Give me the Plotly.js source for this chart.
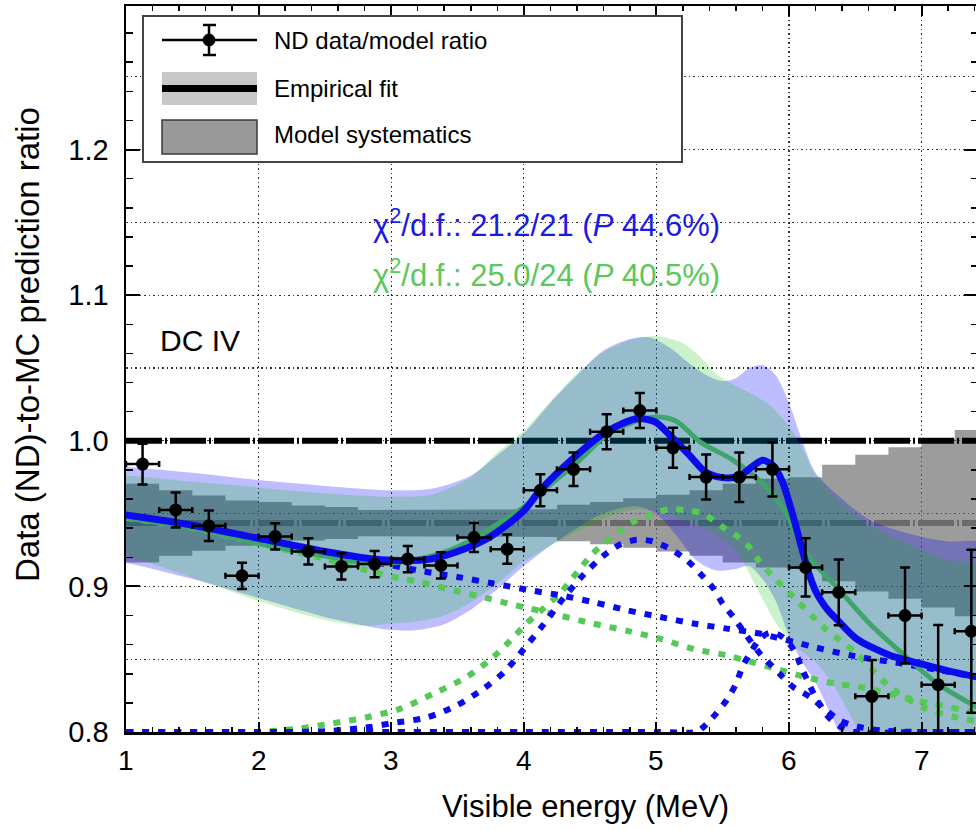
<!DOCTYPE html>
<html><head><meta charset="utf-8">
<script src="https://cdn.plot.ly/plotly-3.0.1.min.js"></script>
<style>html,body{margin:0;padding:0;overflow:hidden;background:#fff}</style>
</head><body><div id="chart" style="width:978px;height:830px"></div>
<script>
// ---------------- data ----------------
const dataX = [1.125,1.375,1.625,1.875,2.125,2.375,2.625,2.875,3.125,3.375,3.625,3.875,4.125,4.375,4.625,4.875,5.125,5.375,5.625,5.875,6.125,6.375,6.625,6.875,7.125,7.375];
const dataY = [0.984,0.9525,0.9416,0.9073,0.9343,0.924,0.9137,0.9153,0.9188,0.9144,0.9336,0.9256,0.966,0.9804,1.0062,1.0208,0.9952,0.9751,0.975,0.9804,0.913,0.8959,0.8245,0.88,0.8325,0.8692];
const dataErr = [0.014,0.012,0.0105,0.009,0.009,0.009,0.009,0.009,0.009,0.009,0.01,0.01,0.011,0.0115,0.012,0.012,0.0137,0.0155,0.017,0.0186,0.02,0.0225,0.025,0.033,0.041,0.056];
const binHalfWidth = 0.125;
const xTickVals = [1, 2, 3, 4, 5, 6, 7];

// model systematics (grey histogram band)
const sysBinEdges = [1.00,1.25,1.50,1.75,2.00,2.25,2.50,2.75,3.00,3.25,3.50,3.75,4.00,4.25,4.50,4.75,5.00,5.25,5.50,5.75,6.00,6.25,6.50,6.75,7.00,7.25,7.50];
const sysHalf = [0.027,0.0225,0.019,0.0155,0.0145,0.012,0.011,0.009,0.009,0.009,0.009,0.0095,0.0095,0.0125,0.0145,0.017,0.0195,0.0225,0.027,0.0305,0.0315,0.040,0.047,0.052,0.058,0.064];
const sysCenter = 0.9435;
const unityLevel = 1.0;
const lineXRange = [1.0, 7.5];

// fit bands
const blueBandUpX = [0.95,1.0,1.5,2.0,2.5,3.0,3.3,3.6,3.8,4.0,4.2,4.4,4.6,4.8,4.95,5.1,5.25,5.4,5.5,5.6,5.7,5.8,5.9,6.0,6.1,6.2,6.4,6.6,6.8,7.0,7.2,7.5];
const blueBandUpY = [0.982,0.982,0.978,0.973,0.969,0.966,0.967,0.976,0.990,1.005,1.026,1.045,1.062,1.070,1.071,1.064,1.053,1.044,1.041,1.043,1.050,1.052,1.045,1.026,1.000,0.978,0.960,0.946,0.939,0.934,0.931,0.928];
const blueBandLoX = [0.95,1.0,1.5,2.0,2.5,2.8,3.0,3.2,3.4,3.6,3.8,4.0,4.2,4.4,4.55,4.7,4.85,5.0,5.15,5.3,5.45,5.6,5.7,5.8,5.9,6.0,6.1,6.2,6.3,6.38,6.6,7.0,7.5];
const blueBandLoY = [0.916,0.916,0.905,0.892,0.879,0.873,0.870,0.870,0.874,0.884,0.898,0.914,0.928,0.940,0.948,0.953,0.955,0.950,0.935,0.918,0.911,0.912,0.914,0.905,0.890,0.866,0.848,0.834,0.815,0.800,0.775,0.75,0.74];
const greenBandUpX = [0.95,1.0,1.5,2.0,2.5,3.0,3.3,3.6,3.8,4.0,4.2,4.4,4.6,4.8,5.0,5.2,5.35,5.45,5.55,5.7,5.85,6.0,6.1,6.2,6.4,6.6,6.8,7.0,7.2,7.5];
const greenBandUpY = [0.976,0.976,0.972,0.968,0.964,0.9615,0.963,0.975,0.992,1.007,1.027,1.046,1.061,1.069,1.072,1.067,1.056,1.046,1.040,1.033,1.025,1.010,0.995,0.977,0.957,0.943,0.933,0.925,0.918,0.912];
const greenBandLoX = [0.95,1.0,1.5,2.0,2.5,2.8,3.0,3.2,3.4,3.6,3.8,4.0,4.2,4.3,4.5,4.7,4.85,5.0,5.2,5.4,5.6,5.75,5.9,6.03,6.2,6.35,6.5,6.6,7.0,7.5];
const greenBandLoY = [0.921,0.921,0.906,0.890,0.877,0.873,0.8745,0.876,0.880,0.889,0.902,0.917,0.928,0.933,0.942,0.950,0.953,0.952,0.946,0.938,0.925,0.900,0.875,0.860,0.848,0.830,0.805,0.790,0.76,0.74];

// fitted totals
const blueFitX = [1.0,1.5,2.0,2.5,2.85,3.0,3.27,3.5,3.745,4.0,4.12,4.37,4.62,4.85,4.99,5.115,5.25,5.37,5.5,5.62,5.72,5.8,5.88,5.95,6.0,6.05,6.1,6.15,6.2,6.25,6.3,6.37,6.51,6.76,6.99,7.2,7.45];
const blueFitY = [0.949,0.942,0.933,0.924,0.919,0.918,0.9184,0.924,0.934,0.952,0.9656,0.9878,1.006,1.0152,1.013,1.0026,0.990,0.9786,0.9747,0.9756,0.982,0.9866,0.983,0.972,0.958,0.942,0.925,0.909,0.897,0.889,0.883,0.8765,0.864,0.8527,0.847,0.842,0.8372];
const greenFitX = [1.0,1.5,2.0,2.5,2.84,3.0,3.27,3.5,3.745,4.0,4.2,4.4,4.62,4.8,5.0,5.15,5.33,5.58,5.83,5.98,6.12,6.37,6.62,6.87,7.12,7.45];
const greenFitY = [0.947,0.940,0.9294,0.921,0.9157,0.916,0.920,0.927,0.9397,0.9545,0.970,0.985,1.0035,1.012,1.0163,1.0135,0.9992,0.9866,0.968,0.950,0.9236,0.8985,0.8733,0.8527,0.8332,0.8155];

// fit components (dotted)
const blueBaseX = [1.0,1.5,2.0,2.5,3.0,3.2,3.5,3.77,4.07,4.27,4.52,4.78,5.03,5.28,5.53,5.78,5.9,6.16,6.5,6.85,7.1,7.45];
const blueBaseY = [0.949,0.942,0.933,0.923,0.9145,0.911,0.9065,0.902,0.897,0.894,0.8893,0.8836,0.879,0.8745,0.871,0.8676,0.865,0.859,0.852,0.847,0.843,0.8372];
const blueG1X = [1.0,1.5,2.0,2.5,2.84,3.0,3.27,3.5,3.7,3.85,4.0,4.15,4.3,4.45,4.6,4.73,4.85,4.97,5.1,5.23,5.33,5.43,5.5,5.58,5.65,5.78,5.93,6.03,6.16,6.28,6.38,6.53,6.7,7.0,7.45];
const blueG1Y = [0.8,0.8,0.8,0.8005,0.8034,0.806,0.810,0.8185,0.830,0.841,0.857,0.874,0.892,0.908,0.921,0.929,0.932,0.931,0.926,0.918,0.9088,0.8985,0.888,0.879,0.870,0.854,0.840,0.831,0.824,0.815,0.808,0.8035,0.801,0.8,0.8];
const blueG2X = [1.0,2.0,3.0,4.0,5.0,5.3,5.35,5.45,5.53,5.6,5.65,5.72,5.78,5.85,5.92,6.0,6.05,6.1,6.2,6.3,6.4,6.5,7.0,7.45];
const blueG2Y = [0.8,0.8,0.8,0.8,0.8,0.8,0.803,0.8126,0.822,0.833,0.845,0.856,0.864,0.868,0.867,0.861,0.854,0.843,0.824,0.810,0.803,0.8,0.8,0.8];
const greenBaseX = [1.0,1.5,2.0,2.5,2.82,3.07,3.22,3.47,3.74,3.89,4.05,4.27,4.52,4.78,5.03,5.28,5.53,5.68,5.9,6.11,6.36,6.53,6.96,7.45];
const greenBaseY = [0.947,0.940,0.9294,0.919,0.911,0.9054,0.903,0.8973,0.8916,0.888,0.8847,0.880,0.8745,0.8695,0.864,0.857,0.8527,0.849,0.8435,0.838,0.833,0.831,0.8218,0.8125];
const greenGaussX = [1.0,1.5,2.0,2.31,2.56,2.81,3.07,3.32,3.57,3.77,3.9,4.02,4.15,4.27,4.37,4.52,4.62,4.73,4.85,4.98,5.1,5.25,5.35,5.5,5.63,5.7,5.78,5.88,6.01,6.26,6.51,6.76,7.01,7.26,7.45];
const greenGaussY = [0.8,0.8,0.8,0.8025,0.806,0.810,0.816,0.8264,0.8378,0.8515,0.863,0.8745,0.885,0.895,0.906,0.9225,0.9305,0.9385,0.9454,0.950,0.953,0.952,0.950,0.9408,0.933,0.927,0.9168,0.9065,0.895,0.872,0.8538,0.831,0.817,0.810,0.807];

// text
const legendLabels = ['ND data/model ratio', 'Empirical fit', 'Model systematics'];
const chiBlue = 'χ<sup>2</sup>/d.f.: 21.2/21 (<i>P</i> 44.6%)';
const chiGreen = 'χ<sup>2</sup>/d.f.: 25.0/24 (<i>P</i> 40.5%)';
const detectorLabel = 'DC IV';
const xTitle = 'Visible energy (MeV)';
const yTitle = 'Data (ND)-to-MC prediction ratio';

// ---------------- styling / geometry ----------------
const FONT = 'Liberation Sans, Arial, Helvetica, sans-serif';
const W = 978, H = 830, ML = 126, MR = 0, MT = 6, MB = 98;
const PW = W - ML - MR, PH = H - MT - MB;
const X = p => (p - ML) / PW;           // pixel -> paper x
const Y = p => (H - MB - p) / PH;       // pixel -> paper y
const xRange = [1, 1 + PW / 132.6];
const yRange = [0.8, 0.8 + PH / 1456];

const BLUE = '#0b0bee', GREEN_DOT = '#55c855', GREEN_LINE = '#3fa56c';
const dotDash = '7px,9px';

function poly(ux, uy, lx, ly) {
  return { x: ux.concat(lx.slice().reverse()), y: uy.concat(ly.slice().reverse()) };
}

// grey step band
const sx = [], sy = [];
for (let i = 0; i < sysHalf.length; i++) {
  sx.push(sysBinEdges[i], sysBinEdges[i + 1]);
  sy.push(sysCenter + sysHalf[i], sysCenter + sysHalf[i]);
}
for (let i = sysHalf.length - 1; i >= 0; i--) {
  sx.push(sysBinEdges[i + 1], sysBinEdges[i]);
  sy.push(sysCenter - sysHalf[i], sysCenter - sysHalf[i]);
}

const bb = poly(blueBandUpX, blueBandUpY, blueBandLoX, blueBandLoY);
const gb = poly(greenBandUpX, greenBandUpY, greenBandLoX, greenBandLoY);

const traces = [
  { x: sx, y: sy, type: 'scatter', mode: 'lines', fill: 'toself', fillcolor: 'rgba(95,95,95,0.62)', line: { width: 0 }, hoverinfo: 'skip' },
  { x: lineXRange, y: [sysCenter, sysCenter], type: 'scatter', mode: 'lines', line: { color: '#6a6a6a', width: 6, dash: '36px,3px,2px,3px' }, hoverinfo: 'skip' },
  { x: lineXRange, y: [unityLevel, unityLevel], type: 'scatter', mode: 'lines', line: { color: '#000', width: 6, dash: '36px,3px,2px,3px' }, hoverinfo: 'skip' },
  { x: bb.x, y: bb.y, type: 'scatter', mode: 'lines', fill: 'toself', fillcolor: 'rgba(0,0,255,0.26)', line: { width: 0, shape: 'spline', smoothing: 0.8 }, hoverinfo: 'skip' },
  { x: gb.x, y: gb.y, type: 'scatter', mode: 'lines', fill: 'toself', fillcolor: 'rgba(0,190,0,0.2)', line: { width: 0, shape: 'spline', smoothing: 0.8 }, hoverinfo: 'skip' },
  { x: greenBaseX, y: greenBaseY, type: 'scatter', mode: 'lines', line: { color: GREEN_DOT, width: 6, dash: dotDash, shape: 'spline', smoothing: 0.8 } },
  { x: greenGaussX, y: greenGaussY, type: 'scatter', mode: 'lines', line: { color: GREEN_DOT, width: 6, dash: dotDash, shape: 'spline', smoothing: 0.8 } },
  { x: blueBaseX, y: blueBaseY, type: 'scatter', mode: 'lines', line: { color: BLUE, width: 6, dash: dotDash, shape: 'spline', smoothing: 0.8 } },
  { x: blueG1X, y: blueG1Y, type: 'scatter', mode: 'lines', line: { color: BLUE, width: 6, dash: dotDash, shape: 'spline', smoothing: 0.8 } },
  { x: blueG2X, y: blueG2Y, type: 'scatter', mode: 'lines', line: { color: BLUE, width: 6, dash: dotDash, shape: 'spline', smoothing: 0.8 } },
  { x: greenFitX, y: greenFitY, type: 'scatter', mode: 'lines', line: { color: GREEN_LINE, width: 5, shape: 'spline', smoothing: 0.8 } },
  { x: blueFitX, y: blueFitY, type: 'scatter', mode: 'lines', line: { color: BLUE, width: 7, shape: 'spline', smoothing: 0.8 } },
  { x: dataX, y: dataY, type: 'scatter', mode: 'markers',
    marker: { color: '#000', size: 13 },
    error_y: { type: 'data', array: dataErr, color: '#000', thickness: 2.5, width: 5 },
    error_x: { type: 'constant', value: binHalfWidth, color: '#000', thickness: 2.5, width: 3 } },
  { x: [], y: [], type: 'scatter', yaxis: 'y2', hoverinfo: 'skip' }
];

const ann = (text, xp, yp, opts) => Object.assign({ text, x: X(xp), y: Y(yp), xref: 'paper', yref: 'paper', showarrow: false, font: { family: FONT, size: 24, color: '#000' } }, opts || {});

const annotations = [
  ann(legendLabels[0], 272, 40, { xanchor: 'left', yanchor: 'middle' }),
  ann(legendLabels[1], 272, 89, { xanchor: 'left', yanchor: 'middle' }),
  ann(legendLabels[2], 272, 135, { xanchor: 'left', yanchor: 'middle' }),
  ann(chiBlue, 546, 223, { xanchor: 'center', yanchor: 'middle', font: { family: FONT, size: 31, color: '#1a1ae6' } }),
  ann(chiGreen, 546, 273, { xanchor: 'center', yanchor: 'middle', font: { family: FONT, size: 31, color: '#5ac85a' } }),
  ann(detectorLabel, 158, 340, { xanchor: 'left', yanchor: 'middle', font: { family: FONT, size: 30, color: '#000' } }),
  ann(yTitle, 27, 345, { xanchor: 'center', yanchor: 'middle', textangle: -90, font: { family: FONT, size: 33, color: '#000' } }),
  ann(xTitle, 585, 806, { xanchor: 'center', yanchor: 'middle', font: { family: FONT, size: 31, color: '#000' } })
];
// x tick labels placed on the x data scale
xTickVals.forEach(v => annotations.push({
  text: String(v), x: v, xref: 'x', y: Y(760), yref: 'paper', showarrow: false,
  xanchor: 'center', yanchor: 'middle', font: { family: FONT, size: 28, color: '#000' }
}));

const pline = (x0, y0, x1, y1, color, width) => ({ type: 'line', xref: 'paper', yref: 'paper', x0: X(x0), y0: Y(y0), x1: X(x1), y1: Y(y1), line: { color, width }, layer: 'above' });
const prect = (x0, y0, x1, y1, fill, lc, lw) => ({ type: 'rect', xref: 'paper', yref: 'paper', x0: X(x0), y0: Y(y0), x1: X(x1), y1: Y(y1), fillcolor: fill, line: { color: lc, width: lw }, layer: 'above' });

const shapes = [
  prect(143, 16, 682, 162, '#ffffff', '#444', 2),
  pline(162, 40, 257, 40, '#000', 2.5),
  pline(209, 25, 209, 55, '#000', 2.5),
  pline(203, 25, 216, 25, '#000', 2.5),
  pline(203, 55, 216, 55, '#000', 2.5),
  { type: 'circle', xref: 'paper', yref: 'paper', x0: X(203), y0: Y(34), x1: X(215), y1: Y(46), fillcolor: '#000', line: { color: '#000', width: 1 }, layer: 'above' },
  prect(162, 72, 257, 105, '#c8c8c8', 'rgba(0,0,0,0)', 0),
  pline(162, 88.5, 257, 88.5, '#000', 7),
  prect(162, 120, 257, 154, '#999999', '#3a3a3a', 1.5)
];

const gridStyle = { showgrid: true, gridcolor: '#333', gridwidth: 1.2, griddash: '1.5px,3px' };

const layout = {
  width: W, height: H,
  margin: { l: ML, r: MR, t: MT, b: MB, pad: 0 },
  paper_bgcolor: '#fff', plot_bgcolor: '#fff',
  showlegend: false,
  font: { family: FONT, color: '#000' },
  xaxis: Object.assign({
    range: xRange, tickmode: 'array', tickvals: xTickVals, showticklabels: false,
    ticks: 'inside', ticklen: 10, tickwidth: 2, tickcolor: '#000',
    minor: { dtick: 0.2, tick0: 1, ticks: 'inside', ticklen: 5, tickwidth: 1.5, tickcolor: '#000', showgrid: false },
    showline: true, linewidth: 2.5, linecolor: '#000', mirror: 'ticks', zeroline: false
  }, gridStyle),
  yaxis: {
    range: yRange, tick0: 0.8, dtick: 0.1, tickformat: '.1f', ticks: 'inside', ticklen: 14, tickwidth: 2, tickcolor: '#000',
    minor: { dtick: 0.02, tick0: 0.8, ticks: 'inside', ticklen: 7, tickwidth: 1.5, tickcolor: '#000', showgrid: false },
    showline: true, linewidth: 2.5, linecolor: '#000', mirror: 'ticks', zeroline: false, showgrid: false,
    tickfont: { family: FONT, size: 29, color: '#000' }, ticklabelstandoff: 9
  },
  yaxis2: Object.assign({
    overlaying: 'y', range: yRange, tick0: 0.8, dtick: 0.05, showticklabels: false, ticks: '', showline: false, zeroline: false
  }, gridStyle),
  shapes, annotations
};

Plotly.newPlot('chart', traces, layout, { staticPlot: true, displayModeBar: false });
</script></body></html>
